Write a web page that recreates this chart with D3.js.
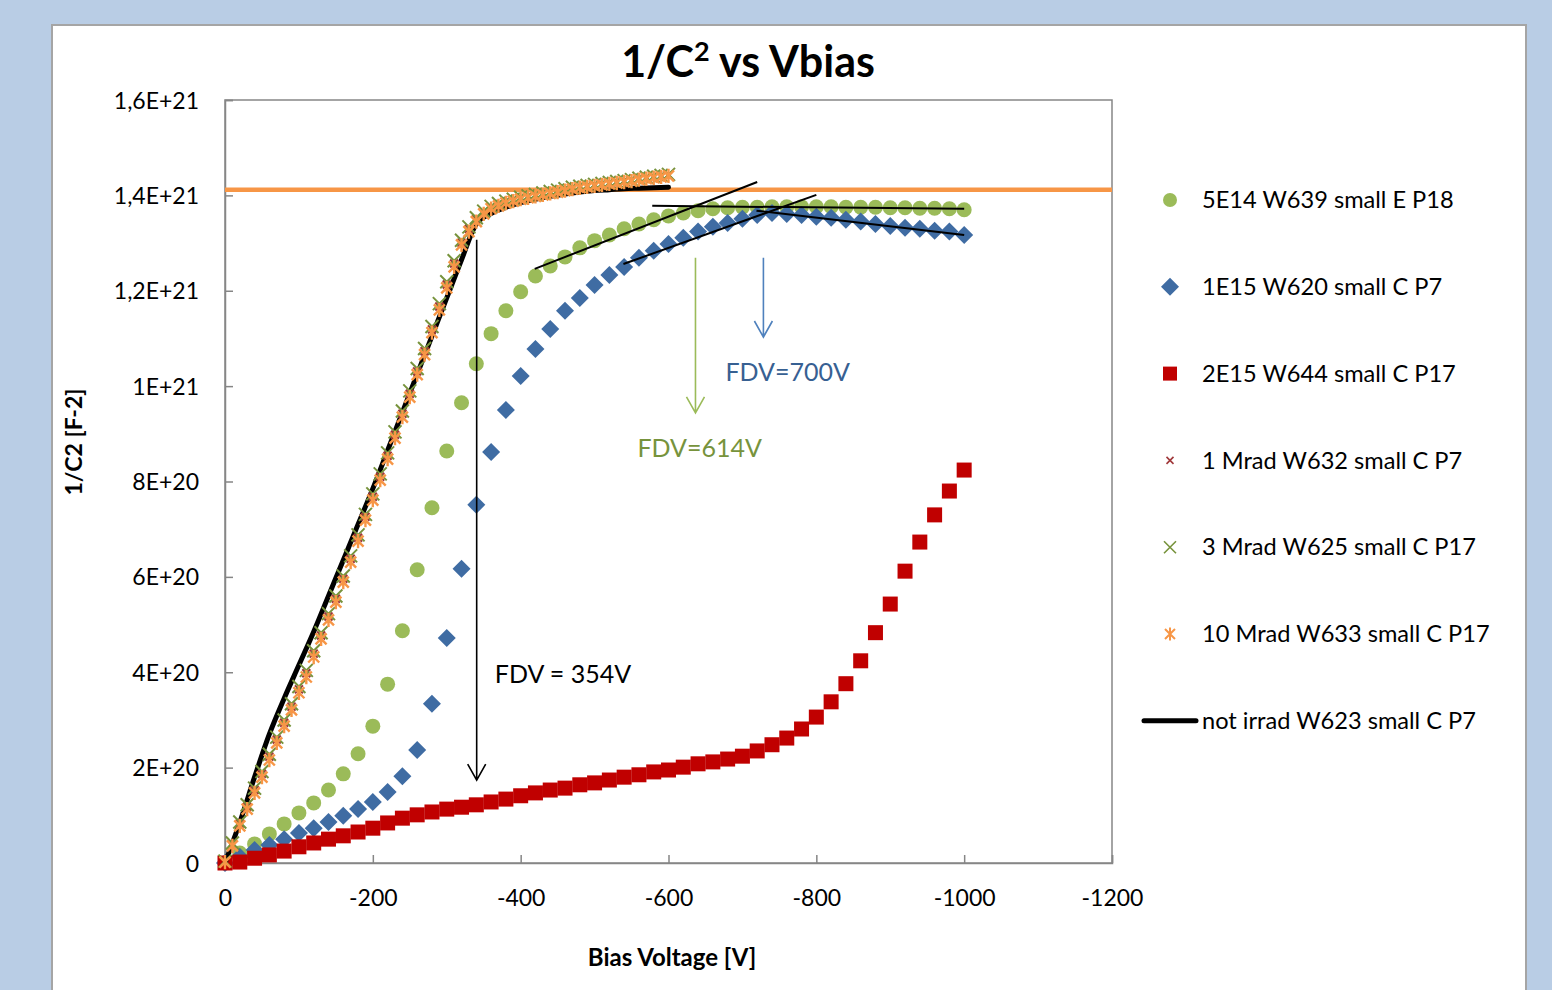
<!DOCTYPE html>
<html>
<head>
<meta charset="utf-8">
<script src="https://cdn.jsdelivr.net/npm/d3@7"></script>
<style>
  body { margin: 0; background: #b9cde5; }
  svg { display: block; }
  text { font-family: Lato, "Open Sans", sans-serif; }
</style>
</head>
<body>
<div id="chart"></div>
<script>
// values in units of 1E20 F^-2, voltages in V
var voltsCoarse = [0,-20,-40,-60,-80,-100,-120,-140,-160,-180,-200,-220,-240,-260,-280,-300,-320,-340,-360,-380,-400,
  -420,-440,-460,-480,-500,-520,-540,-560,-580,-600,-620,-640,-660,-680,-700,-720,-740,-760,-780,-800,
  -820,-840,-860,-880,-900,-920,-940,-960,-980,-1000];
var voltsFine = [0,-10,-20,-30,-40,-50,-60,-70,-80,-90,-100,-110,-120,-130,-140,-150,-160,-170,-180,-190,-200,
  -210,-220,-230,-240,-250,-260,-270,-280,-290,-300,-310,-320,-330,-340,-350,-360,-370,-380,-390,-400,
  -410,-420,-430,-440,-450,-460,-470,-480,-490,-500,-510,-520,-530,-540,-550,-560,-570,-580,-590,-600];
var voltsBlack = [0,-20,-40,-60,-80,-100,-120,-140,-160,-180,-200,-220,-240,-260,-280,-300,-320,-340,-360,-380,-400,
  -420,-440,-460,-480,-500,-520,-540,-560,-580,-600];

var green5E14 = [0,0.21,0.40,0.61,0.82,1.05,1.26,1.53,1.87,2.29,2.87,3.75,4.87,6.15,7.45,8.64,9.65,10.47,11.10,11.58,11.98,
  12.31,12.52,12.71,12.90,13.05,13.17,13.30,13.40,13.49,13.57,13.63,13.68,13.72,13.74,13.75,13.75,13.76,13.76,13.76,13.76,
  13.76,13.75,13.75,13.75,13.74,13.74,13.73,13.73,13.72,13.70];
var blue1E15 = [0,0.13,0.27,0.38,0.50,0.63,0.73,0.86,0.99,1.13,1.28,1.49,1.82,2.37,3.34,4.72,6.17,7.51,8.62,9.50,10.21,
  10.78,11.20,11.58,11.85,12.12,12.33,12.50,12.69,12.84,12.98,13.11,13.24,13.34,13.42,13.51,13.59,13.63,13.61,13.59,13.55,
  13.53,13.49,13.45,13.40,13.36,13.32,13.30,13.26,13.24,13.17];
var red2E15 = [0,0.02,0.10,0.17,0.25,0.34,0.42,0.50,0.57,0.65,0.73,0.84,0.94,1.01,1.07,1.13,1.17,1.22,1.28,1.34,1.41,
  1.47,1.53,1.57,1.64,1.68,1.74,1.80,1.85,1.91,1.95,2.01,2.08,2.12,2.18,2.24,2.35,2.48,2.62,2.81,3.06,
  3.38,3.76,4.24,4.83,5.43,6.12,6.73,7.30,7.80,8.24];
var mrad1 = [0.03,0.40,0.83,1.18,1.53,1.87,2.23,2.59,2.94,3.28,3.64,3.98,4.39,4.77,5.17,5.54,5.96,6.38,6.82,7.26,7.68,
  8.10,8.54,8.98,9.42,9.84,10.31,10.73,11.19,11.67,12.13,12.57,13.01,13.30,13.50,13.65,13.75,13.81,13.86,13.90,13.94,
  13.97,14.00,14.03,14.06,14.09,14.12,14.15,14.18,14.20,14.22,14.24,14.26,14.28,14.30,14.32,14.35,14.37,14.39,14.41,14.43];
var mrad3 = [0.04,0.42,0.86,1.22,1.57,1.92,2.28,2.64,3.00,3.34,3.70,4.04,4.45,4.83,5.23,5.60,6.02,6.44,6.88,7.31,7.74,
  8.16,8.60,9.04,9.48,9.90,10.37,10.79,11.25,11.73,12.19,12.63,13.06,13.34,13.53,13.67,13.77,13.83,13.88,13.92,13.96,
  13.99,14.02,14.05,14.08,14.11,14.14,14.17,14.19,14.21,14.23,14.25,14.27,14.29,14.31,14.33,14.36,14.38,14.40,14.42,14.44];
var mrad10 = [0.02,0.36,0.78,1.13,1.47,1.80,2.16,2.52,2.87,3.21,3.57,3.90,4.32,4.70,5.10,5.47,5.89,6.31,6.75,7.19,7.61,
  8.03,8.47,8.91,9.35,9.77,10.24,10.66,11.12,11.60,12.06,12.50,12.96,13.24,13.45,13.61,13.72,13.78,13.84,13.88,13.92,
  13.95,13.98,14.01,14.04,14.07,14.10,14.13,14.16,14.18,14.20,14.22,14.24,14.26,14.28,14.30,14.33,14.35,14.37,14.39,14.41];
var notIrrad = [0,0.85,1.80,2.70,3.45,4.15,4.85,5.60,6.35,7.10,7.85,8.65,9.45,10.25,11.05,11.85,12.65,13.40,13.62,13.75,13.85,
  13.92,13.98,14.03,14.07,14.10,14.12,14.14,14.15,14.16,14.17];

var seriesNames = ["5E14 W639 small E P18", "1E15 W620 small C P7", "2E15 W644 small C P17",
  "1 Mrad W632 small C P7", "3 Mrad W625 small C P17", "10 Mrad W633 small C P17", "not irrad W623 small C P7"];

var xTicks = [0,-200,-400,-600,-800,-1000,-1200];
var yTicks = [0,2,4,6,8,10,12,14,16];
var yTickLabels = ["0","2E+20","4E+20","6E+20","8E+20","1E+21","1,2E+21","1,4E+21","1,6E+21"];

var refLevel = 14.12; // orange horizontal line
// fit lines [V1, val1, V2, val2]
var fitLines = [[-419,12.46,-720,14.28],[-578,13.78,-1000,13.72],[-539,12.56,-800,14.01],[-719,13.68,-1000,13.17]];
// arrows [V, from, to, colour]
var arrows = [[-340.5,13.07,1.74,"#000000"],[-636.5,12.69,9.44,"#9bbb59"],[-728.4,12.69,11.03,"#4f81bd"]];
var labels = [["FDV = 354V",-365,3.95,"#000000"],["FDV=614V",-558,8.7,"#77933c"],["FDV=700V",-677,10.3,"#376092"]];

var svgWidth = 1552, svgHeight = 990;
var margin = {top: 100, right: 440, bottom: 127, left: 225};
var width = svgWidth - margin.left - margin.right;
var height = svgHeight - margin.top - margin.bottom;

var svg = d3.select("#chart").append("svg")
  .attr("width", svgWidth)
  .attr("height", svgHeight);

// chart frame
svg.append("rect")
  .attr("x", 52).attr("y", 25).attr("width", 1474).attr("height", 990)
  .attr("fill", "#ffffff").attr("stroke", "#a5a5a5").attr("stroke-width", 2);

var g = svg.append("g").attr("transform", `translate(${margin.left}, ${margin.top})`);

var x = d3.scaleLinear().domain([0, -1200]).range([0, width]);
var y = d3.scaleLinear().domain([0, 16]).range([height, 0]);

// plot area box
g.append("rect").attr("width", width).attr("height", height)
  .attr("fill", "none").attr("stroke", "#868686").attr("stroke-width", 1.5);

var xAxis = d3.axisBottom(x).tickValues(xTicks).tickSize(-8).tickPadding(22).tickFormat(d => String(d));
var yAxis = d3.axisLeft(y).tickValues(yTicks).tickSize(-8).tickPadding(26).tickFormat((d, i) => yTickLabels[i]);

var gx = g.append("g").attr("transform", `translate(0, ${height})`).call(xAxis);
var gy = g.append("g").call(yAxis);
[gx, gy].forEach(a => {
  a.select(".domain").attr("stroke", "#868686").attr("stroke-width", 1.5);
  a.selectAll(".tick line").attr("stroke", "#868686").attr("stroke-width", 1.5);
  a.selectAll(".tick text").attr("fill", "#000").style("font-size", "23px").style("font-family", "Lato, sans-serif");
});
gx.selectAll(".tick text").attr("dy", "0.9em");
gy.selectAll(".tick text").attr("dy", "0.35em");

// orange reference line
g.append("line")
  .attr("x1", 0).attr("x2", width)
  .attr("y1", y(refLevel)).attr("y2", y(refLevel))
  .attr("stroke", "#f79646").attr("stroke-width", 4.5);

function pts(vs, ys) { return vs.map((v, i) => [v, ys[i]]); }

function xPath(s) { return `M${-s},${-s}L${s},${s}M${-s},${s}L${s},${-s}`; }
function starPath(s) { return xPath(s) + `M0,${-s * 1.3}L0,${s * 1.3}`; }

// green circles
g.append("g").selectAll("circle").data(pts(voltsCoarse, green5E14)).enter().append("circle")
  .attr("cx", d => x(d[0])).attr("cy", d => y(d[1])).attr("r", 7.5).attr("fill", "#9bbb59");

// blue diamonds
g.append("g").selectAll("path").data(pts(voltsCoarse, blue1E15)).enter().append("path")
  .attr("transform", d => `translate(${x(d[0])},${y(d[1])})`)
  .attr("d", "M0,-9L9,0L0,9L-9,0Z").attr("fill", "#3f6ca3");

// red squares
g.append("g").selectAll("rect").data(pts(voltsCoarse, red2E15)).enter().append("rect")
  .attr("x", d => x(d[0]) - 7.5).attr("y", d => y(d[1]) - 7.5)
  .attr("width", 15).attr("height", 15).attr("fill", "#c00000");

// not irradiated line
var line = d3.line().x(d => x(d[0])).y(d => y(d[1])).curve(d3.curveMonotoneX);
g.append("path").datum(pts(voltsBlack, notIrrad))
  .attr("d", line).attr("fill", "none").attr("stroke", "#000").attr("stroke-width", 5)
  .attr("stroke-linecap", "round").attr("stroke-linejoin", "round");

// 1 Mrad small x
g.append("g").selectAll("path").data(pts(voltsFine, mrad1)).enter().append("path")
  .attr("transform", d => `translate(${x(d[0])},${y(d[1])})`)
  .attr("d", xPath(4)).attr("stroke", "#a0383a").attr("stroke-width", 2).attr("fill", "none");

// 3 Mrad x
g.append("g").selectAll("path").data(pts(voltsFine, mrad3)).enter().append("path")
  .attr("transform", d => `translate(${x(d[0])},${y(d[1])})`)
  .attr("d", xPath(6.5)).attr("stroke", "#77933c").attr("stroke-width", 2).attr("fill", "none");

// 10 Mrad asterisk
g.append("g").selectAll("path").data(pts(voltsFine, mrad10)).enter().append("path")
  .attr("transform", d => `translate(${x(d[0])},${y(d[1])})`)
  .attr("d", starPath(5.5)).attr("stroke", "#f79646").attr("stroke-width", 2.4).attr("fill", "none");

// fit lines
g.append("g").selectAll("line").data(fitLines).enter().append("line")
  .attr("x1", d => x(d[0])).attr("y1", d => y(d[1]))
  .attr("x2", d => x(d[2])).attr("y2", d => y(d[3]))
  .attr("stroke", "#000").attr("stroke-width", 2);

// arrows
arrows.forEach(a => {
  var ax = x(a[0]), y1 = y(a[1]), y2 = y(a[2]);
  g.append("path")
    .attr("d", `M${ax},${y1}L${ax},${y2}M${ax - 9},${y2 - 16}L${ax},${y2}L${ax + 9},${y2 - 16}`)
    .attr("fill", "none").attr("stroke", a[3]).attr("stroke-width", 1.6);
});

// annotation labels
g.append("g").selectAll("text").data(labels).enter().append("text")
  .attr("x", d => x(d[1])).attr("y", d => y(d[2]))
  .attr("dy", "0.35em").attr("fill", d => d[3]).style("font-size", "25px").text(d => d[0]);

// title
var title = svg.append("text").attr("x", 748).attr("y", 77).attr("text-anchor", "middle")
  .style("font-size", "43px").style("font-weight", "bold");
title.append("tspan").text("1/C");
title.append("tspan").attr("dy", -16).style("font-size", "27px").text("2");
title.append("tspan").attr("dy", 16).text(" vs Vbias");

// axis titles
svg.append("text").attr("x", 672).attr("y", 958).attr("dy", "0.35em").attr("text-anchor", "middle")
  .style("font-size", "24px").style("font-weight", "bold").text("Bias Voltage [V]");
svg.append("text").attr("transform", "translate(74,442) rotate(-90)").attr("dy", "0.35em")
  .attr("text-anchor", "middle").style("font-size", "23px").style("font-weight", "bold").text("1/C2 [F-2]");

// legend
var legend = svg.append("g").attr("transform", "translate(1170, 200)");
var entries = legend.selectAll("g").data(seriesNames).enter().append("g")
  .attr("transform", (d, i) => `translate(0, ${i * 86.8})`);
entries.append("text").attr("x", 32).attr("dy", "0.35em").style("font-size", "23.6px").text(d => d);
entries.each(function(d, i) {
  var e = d3.select(this);
  if (i == 0) e.append("circle").attr("r", 7).attr("fill", "#9bbb59");
  if (i == 1) e.append("path").attr("d", "M0,-9L9,0L0,9L-9,0Z").attr("fill", "#3f6ca3");
  if (i == 2) e.append("rect").attr("x", -7).attr("y", -7).attr("width", 14).attr("height", 14).attr("fill", "#c00000");
  if (i == 3) e.append("path").attr("d", xPath(3.5)).attr("stroke", "#a0383a").attr("stroke-width", 1.6);
  if (i == 4) e.append("path").attr("d", xPath(6)).attr("stroke", "#77933c").attr("stroke-width", 1.6);
  if (i == 5) e.append("path").attr("d", starPath(5)).attr("stroke", "#f79646").attr("stroke-width", 2);
  if (i == 6) e.append("line").attr("x1", -26).attr("x2", 26).attr("stroke", "#000").attr("stroke-width", 5)
    .attr("stroke-linecap", "round");
});
</script>
</body>
</html>
